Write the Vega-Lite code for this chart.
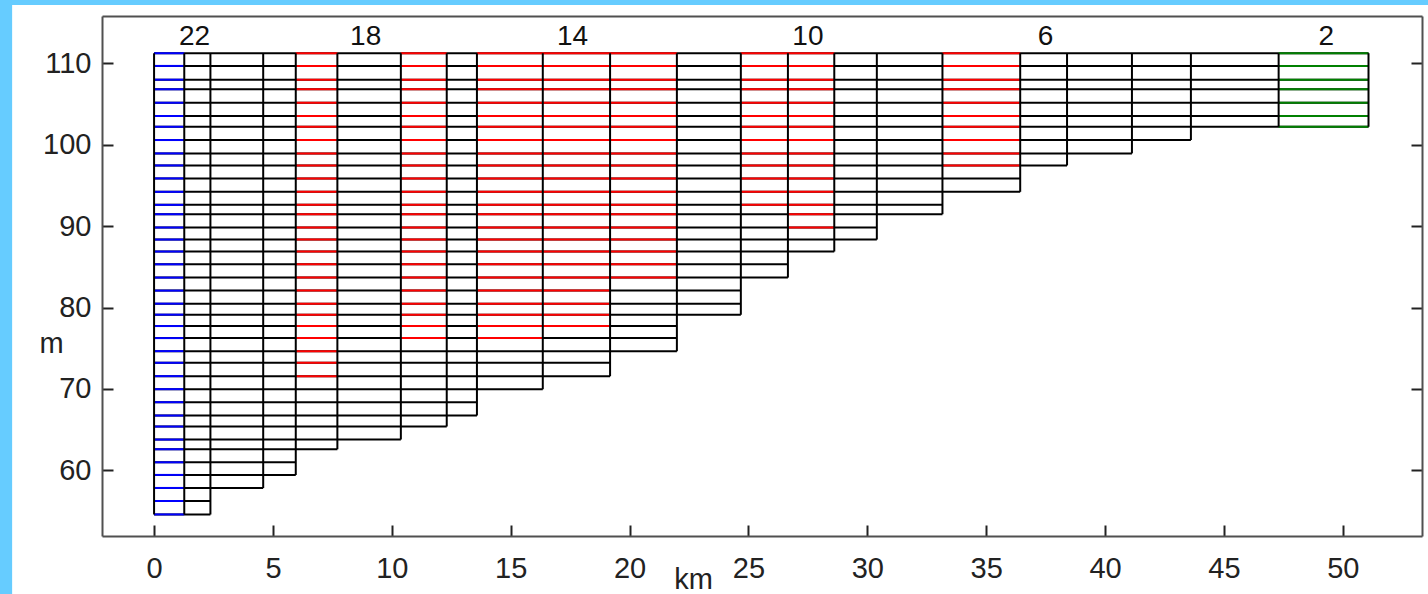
{
  "$schema": "https://vega.github.io/schema/vega-lite/v6.json",
  "width": 1320,
  "height": 520,
  "autosize": {"type": "none"},
  "padding": {"left": 102, "top": 16, "right": 6, "bottom": 58},
  "background": "#66ccff",
  "config": {"view": {"stroke": null}, "axis": {"grid": false}, "font": "Liberation Sans, Arial, sans-serif"},
  "datasets": {
    "h": [
      {"a":0,"b":51.08,"y":111.23,"c":"k"},
      {"a":0,"b":51.08,"y":109.67,"c":"k"},
      {"a":0,"b":51.08,"y":107.98,"c":"k"},
      {"a":0,"b":51.08,"y":106.8,"c":"k"},
      {"a":0,"b":51.08,"y":105.15,"c":"k"},
      {"a":0,"b":51.08,"y":103.52,"c":"k"},
      {"a":0,"b":51.08,"y":102.2,"c":"k"},
      {"a":0,"b":43.61,"y":100.57,"c":"k"},
      {"a":0,"b":41.13,"y":98.93,"c":"k"},
      {"a":0,"b":38.4,"y":97.45,"c":"k"},
      {"a":0,"b":36.43,"y":95.86,"c":"k"},
      {"a":0,"b":36.43,"y":94.21,"c":"k"},
      {"a":0,"b":33.16,"y":92.61,"c":"k"},
      {"a":0,"b":33.16,"y":91.46,"c":"k"},
      {"a":0,"b":30.4,"y":89.83,"c":"k"},
      {"a":0,"b":30.4,"y":88.35,"c":"k"},
      {"a":0,"b":28.61,"y":86.88,"c":"k"},
      {"a":0,"b":26.66,"y":85.31,"c":"k"},
      {"a":0,"b":26.66,"y":83.68,"c":"k"},
      {"a":0,"b":24.68,"y":82.08,"c":"k"},
      {"a":0,"b":24.68,"y":80.48,"c":"k"},
      {"a":0,"b":24.68,"y":79.13,"c":"k"},
      {"a":0,"b":21.99,"y":77.73,"c":"k"},
      {"a":0,"b":21.99,"y":76.25,"c":"k"},
      {"a":0,"b":21.99,"y":74.65,"c":"k"},
      {"a":0,"b":19.18,"y":73.22,"c":"k"},
      {"a":0,"b":19.18,"y":71.58,"c":"k"},
      {"a":0,"b":16.35,"y":69.98,"c":"k"},
      {"a":0,"b":13.58,"y":68.38,"c":"k"},
      {"a":0,"b":13.58,"y":66.74,"c":"k"},
      {"a":0,"b":12.31,"y":65.39,"c":"k"},
      {"a":0,"b":10.38,"y":63.79,"c":"k"},
      {"a":0,"b":7.71,"y":62.6,"c":"k"},
      {"a":0,"b":5.96,"y":61.0,"c":"k"},
      {"a":0,"b":5.96,"y":59.45,"c":"k"},
      {"a":0,"b":4.59,"y":57.85,"c":"k"},
      {"a":0,"b":2.37,"y":56.25,"c":"k"},
      {"a":0,"b":2.37,"y":54.6,"c":"k"},

      {"a":0,"b":1.27,"y":111.23,"c":"b"},
      {"a":0,"b":1.27,"y":109.67,"c":"b"},
      {"a":0,"b":1.27,"y":107.98,"c":"b"},
      {"a":0,"b":1.27,"y":106.8,"c":"b"},
      {"a":0,"b":1.27,"y":105.15,"c":"b"},
      {"a":0,"b":1.27,"y":103.52,"c":"b"},
      {"a":0,"b":1.27,"y":102.2,"c":"b"},
      {"a":0,"b":1.27,"y":100.57,"c":"b"},
      {"a":0,"b":1.27,"y":98.93,"c":"b"},
      {"a":0,"b":1.27,"y":97.45,"c":"b"},
      {"a":0,"b":1.27,"y":95.86,"c":"b"},
      {"a":0,"b":1.27,"y":94.21,"c":"b"},
      {"a":0,"b":1.27,"y":92.61,"c":"b"},
      {"a":0,"b":1.27,"y":91.46,"c":"b"},
      {"a":0,"b":1.27,"y":89.83,"c":"b"},
      {"a":0,"b":1.27,"y":88.35,"c":"b"},
      {"a":0,"b":1.27,"y":86.88,"c":"b"},
      {"a":0,"b":1.27,"y":85.31,"c":"b"},
      {"a":0,"b":1.27,"y":83.68,"c":"b"},
      {"a":0,"b":1.27,"y":82.08,"c":"b"},
      {"a":0,"b":1.27,"y":80.48,"c":"b"},
      {"a":0,"b":1.27,"y":79.13,"c":"b"},
      {"a":0,"b":1.27,"y":77.73,"c":"b"},
      {"a":0,"b":1.27,"y":76.25,"c":"b"},
      {"a":0,"b":1.27,"y":74.65,"c":"b"},
      {"a":0,"b":1.27,"y":73.22,"c":"b"},
      {"a":0,"b":1.27,"y":71.58,"c":"b"},
      {"a":0,"b":1.27,"y":69.98,"c":"b"},
      {"a":0,"b":1.27,"y":68.38,"c":"b"},
      {"a":0,"b":1.27,"y":66.74,"c":"b"},
      {"a":0,"b":1.27,"y":65.39,"c":"b"},
      {"a":0,"b":1.27,"y":63.79,"c":"b"},
      {"a":0,"b":1.27,"y":62.6,"c":"b"},
      {"a":0,"b":1.27,"y":61.0,"c":"b"},
      {"a":0,"b":1.27,"y":59.45,"c":"b"},
      {"a":0,"b":1.27,"y":57.85,"c":"b"},
      {"a":0,"b":1.27,"y":56.25,"c":"b"},
      {"a":0,"b":1.27,"y":54.6,"c":"b"},

      {"a":47.3,"b":51.08,"y":111.23,"c":"g"},
      {"a":47.3,"b":51.08,"y":109.67,"c":"g"},
      {"a":47.3,"b":51.08,"y":107.98,"c":"g"},
      {"a":47.3,"b":51.08,"y":106.8,"c":"g"},
      {"a":47.3,"b":51.08,"y":105.15,"c":"g"},
      {"a":47.3,"b":51.08,"y":103.52,"c":"g"},
      {"a":47.3,"b":51.08,"y":102.2,"c":"g"},

      {"a":5.96,"b":7.71,"y":111.23,"c":"r"},
      {"a":5.96,"b":7.71,"y":109.67,"c":"r"},
      {"a":5.96,"b":7.71,"y":107.98,"c":"r"},
      {"a":5.96,"b":7.71,"y":106.8,"c":"r"},
      {"a":5.96,"b":7.71,"y":105.15,"c":"r"},
      {"a":5.96,"b":7.71,"y":103.52,"c":"r"},
      {"a":5.96,"b":7.71,"y":102.2,"c":"r"},
      {"a":5.96,"b":7.71,"y":100.57,"c":"r"},
      {"a":5.96,"b":7.71,"y":98.93,"c":"r"},
      {"a":5.96,"b":7.71,"y":97.45,"c":"r"},
      {"a":5.96,"b":7.71,"y":95.86,"c":"r"},
      {"a":5.96,"b":7.71,"y":94.21,"c":"r"},
      {"a":5.96,"b":7.71,"y":92.61,"c":"r"},
      {"a":5.96,"b":7.71,"y":91.46,"c":"r"},
      {"a":5.96,"b":7.71,"y":89.83,"c":"r"},
      {"a":5.96,"b":7.71,"y":88.35,"c":"r"},
      {"a":5.96,"b":7.71,"y":86.88,"c":"r"},
      {"a":5.96,"b":7.71,"y":85.31,"c":"r"},
      {"a":5.96,"b":7.71,"y":83.68,"c":"r"},
      {"a":5.96,"b":7.71,"y":82.08,"c":"r"},
      {"a":5.96,"b":7.71,"y":80.48,"c":"r"},
      {"a":5.96,"b":7.71,"y":79.13,"c":"r"},
      {"a":5.96,"b":7.71,"y":77.73,"c":"r"},
      {"a":5.96,"b":7.71,"y":76.25,"c":"r"},
      {"a":5.96,"b":7.71,"y":74.65,"c":"r"},
      {"a":5.96,"b":7.71,"y":73.22,"c":"r"},
      {"a":5.96,"b":7.71,"y":71.58,"c":"r"},

      {"a":10.38,"b":12.31,"y":111.23,"c":"r"},
      {"a":10.38,"b":12.31,"y":109.67,"c":"r"},
      {"a":10.38,"b":12.31,"y":107.98,"c":"r"},
      {"a":10.38,"b":12.31,"y":106.8,"c":"r"},
      {"a":10.38,"b":12.31,"y":105.15,"c":"r"},
      {"a":10.38,"b":12.31,"y":103.52,"c":"r"},
      {"a":10.38,"b":12.31,"y":102.2,"c":"r"},
      {"a":10.38,"b":12.31,"y":100.57,"c":"r"},
      {"a":10.38,"b":12.31,"y":98.93,"c":"r"},
      {"a":10.38,"b":12.31,"y":97.45,"c":"r"},
      {"a":10.38,"b":12.31,"y":95.86,"c":"r"},
      {"a":10.38,"b":12.31,"y":94.21,"c":"r"},
      {"a":10.38,"b":12.31,"y":92.61,"c":"r"},
      {"a":10.38,"b":12.31,"y":91.46,"c":"r"},
      {"a":10.38,"b":12.31,"y":89.83,"c":"r"},
      {"a":10.38,"b":12.31,"y":88.35,"c":"r"},
      {"a":10.38,"b":12.31,"y":86.88,"c":"r"},
      {"a":10.38,"b":12.31,"y":85.31,"c":"r"},
      {"a":10.38,"b":12.31,"y":83.68,"c":"r"},
      {"a":10.38,"b":12.31,"y":82.08,"c":"r"},
      {"a":10.38,"b":12.31,"y":80.48,"c":"r"},
      {"a":10.38,"b":12.31,"y":79.13,"c":"r"},
      {"a":10.38,"b":12.31,"y":77.73,"c":"r"},
      {"a":10.38,"b":12.31,"y":76.25,"c":"r"},

      {"a":13.58,"b":21.99,"y":111.23,"c":"r"},
      {"a":13.58,"b":21.99,"y":109.67,"c":"r"},
      {"a":13.58,"b":21.99,"y":107.98,"c":"r"},
      {"a":13.58,"b":21.99,"y":106.8,"c":"r"},
      {"a":13.58,"b":21.99,"y":105.15,"c":"r"},
      {"a":13.58,"b":21.99,"y":103.52,"c":"r"},
      {"a":13.58,"b":21.99,"y":102.2,"c":"r"},
      {"a":13.58,"b":21.99,"y":100.57,"c":"r"},
      {"a":13.58,"b":21.99,"y":98.93,"c":"r"},
      {"a":13.58,"b":21.99,"y":97.45,"c":"r"},
      {"a":13.58,"b":21.99,"y":95.86,"c":"r"},
      {"a":13.58,"b":21.99,"y":94.21,"c":"r"},
      {"a":13.58,"b":21.99,"y":92.61,"c":"r"},
      {"a":13.58,"b":21.99,"y":91.46,"c":"r"},
      {"a":13.58,"b":21.99,"y":89.83,"c":"r"},
      {"a":13.58,"b":21.99,"y":88.35,"c":"r"},
      {"a":13.58,"b":21.99,"y":86.88,"c":"r"},
      {"a":13.58,"b":21.99,"y":85.31,"c":"r"},
      {"a":13.58,"b":21.99,"y":83.68,"c":"r"},
      {"a":13.58,"b":19.18,"y":82.08,"c":"r"},
      {"a":13.58,"b":19.18,"y":80.48,"c":"r"},
      {"a":13.58,"b":19.18,"y":79.13,"c":"r"},
      {"a":13.58,"b":19.18,"y":77.73,"c":"r"},
      {"a":13.58,"b":16.35,"y":76.25,"c":"r"},

      {"a":24.68,"b":28.61,"y":111.23,"c":"r"},
      {"a":24.68,"b":28.61,"y":109.67,"c":"r"},
      {"a":24.68,"b":28.61,"y":107.98,"c":"r"},
      {"a":24.68,"b":28.61,"y":106.8,"c":"r"},
      {"a":24.68,"b":28.61,"y":105.15,"c":"r"},
      {"a":24.68,"b":28.61,"y":103.52,"c":"r"},
      {"a":24.68,"b":28.61,"y":102.2,"c":"r"},
      {"a":24.68,"b":28.61,"y":100.57,"c":"r"},
      {"a":24.68,"b":28.61,"y":98.93,"c":"r"},
      {"a":24.68,"b":28.61,"y":97.45,"c":"r"},
      {"a":24.68,"b":28.61,"y":95.86,"c":"r"},
      {"a":24.68,"b":28.61,"y":94.21,"c":"r"},
      {"a":24.68,"b":28.61,"y":92.61,"c":"r"},
      {"a":26.66,"b":28.61,"y":91.46,"c":"r"},
      {"a":26.66,"b":28.61,"y":89.83,"c":"r"},

      {"a":33.16,"b":36.43,"y":111.23,"c":"r"},
      {"a":33.16,"b":36.43,"y":109.67,"c":"r"},
      {"a":33.16,"b":36.43,"y":107.98,"c":"r"},
      {"a":33.16,"b":36.43,"y":106.8,"c":"r"},
      {"a":33.16,"b":36.43,"y":105.15,"c":"r"},
      {"a":33.16,"b":36.43,"y":103.52,"c":"r"},
      {"a":33.16,"b":36.43,"y":102.2,"c":"r"},
      {"a":33.16,"b":36.43,"y":100.57,"c":"r"},
      {"a":33.16,"b":36.43,"y":98.93,"c":"r"},
      {"a":33.16,"b":36.43,"y":97.45,"c":"r"}
    ],
    "v": [
      {"x":0,"y0":54.6,"y1":111.23},
      {"x":1.27,"y0":54.6,"y1":111.23},
      {"x":2.37,"y0":54.6,"y1":111.23},
      {"x":4.59,"y0":57.85,"y1":111.23},
      {"x":5.96,"y0":59.45,"y1":111.23},
      {"x":7.71,"y0":62.6,"y1":111.23},
      {"x":10.38,"y0":63.79,"y1":111.23},
      {"x":12.31,"y0":65.39,"y1":111.23},
      {"x":13.58,"y0":66.74,"y1":111.23},
      {"x":16.35,"y0":69.98,"y1":111.23},
      {"x":19.18,"y0":71.58,"y1":111.23},
      {"x":21.99,"y0":74.65,"y1":111.23},
      {"x":24.68,"y0":79.13,"y1":111.23},
      {"x":26.66,"y0":83.68,"y1":111.23},
      {"x":28.61,"y0":86.88,"y1":111.23},
      {"x":30.4,"y0":88.35,"y1":111.23},
      {"x":33.16,"y0":91.46,"y1":111.23},
      {"x":36.43,"y0":94.21,"y1":111.23},
      {"x":38.4,"y0":97.45,"y1":111.23},
      {"x":41.13,"y0":98.93,"y1":111.23},
      {"x":43.61,"y0":100.57,"y1":111.23},
      {"x":47.3,"y0":102.2,"y1":111.23},
      {"x":51.08,"y0":102.2,"y1":111.23}
    ],
    "t": [
      {"x":1.7,"y":113.17,"label":"22"},
      {"x":8.9,"y":113.17,"label":"18"},
      {"x":17.6,"y":113.17,"label":"14"},
      {"x":27.5,"y":113.17,"label":"10"},
      {"x":37.5,"y":113.17,"label":"6"},
      {"x":49.3,"y":113.17,"label":"2"}
    ]
  },
  "resolve": {"axis": {"x": "independent", "y": "independent"}},
  "layer": [
    {
      "data": {"values": [{}]},
      "mark": {"type": "rect", "color": "white", "clip": false},
      "encoding": {
        "x": {"datum": -5.97, "type": "quantitative",
          "scale": {"domain": [-2.19, 53.33], "nice": false, "zero": false},
          "axis": {"orient": "bottom", "values": [0,5,10,15,20,25,30,35,40,45,50], "tickSize": -11, "tickWidth": 2, "tickColor": "#222222",
            "domainColor": "#505050", "domainWidth": 2, "labelFontSize": 29, "labelColor": "#222222", "labelPadding": 29,
            "labelFlush": false, "labelOverlap": false, "labelBaseline": "top",
            "title": "km", "titleFontSize": 29, "titleFontWeight": "normal", "titleColor": "#222222",
            "titleX": 591, "titleY": 52, "titleAlign": "center", "titleBaseline": "alphabetic", "titleAnchor": null, "zindex": 1}},
        "x2": {"datum": 90},
        "y": {"datum": 117.15, "type": "quantitative",
          "scale": {"domain": [51.95, 115.8], "nice": false, "zero": false},
          "axis": {"orient": "left", "values": [60,70,80,90,100,110], "tickSize": -11, "tickWidth": 2, "tickColor": "#222222",
            "domainColor": "#505050", "domainWidth": 2, "labelFontSize": 29, "labelColor": "#222222", "labelPadding": 22,
            "labelFlush": false, "labelOverlap": false,
            "title": "m", "titleFontSize": 29, "titleFontWeight": "normal", "titleColor": "#222222", "titleAngle": 0,
            "titleX": -51, "titleY": 327, "titleAlign": "center", "titleBaseline": "middle", "titleAnchor": null, "zindex": 1}},
        "y2": {"datum": 20}
      }
    },
    {
      "data": {"name": "h"},
      "mark": {"type": "rule", "strokeWidth": 2},
      "encoding": {
        "x": {"field": "a", "type": "quantitative",
          "axis": {"orient": "top", "ticks": false, "labels": false, "domainColor": "#505050", "domainWidth": 2, "title": null, "zindex": 1}},
        "x2": {"field": "b"},
        "y": {"field": "y", "type": "quantitative",
          "axis": {"orient": "right", "values": [60,70,80,90,100,110], "tickSize": -11, "tickWidth": 2, "tickColor": "#222222", "labels": false,
            "domainColor": "#505050", "domainWidth": 2, "title": null, "zindex": 1}},
        "color": {"field": "c", "type": "nominal", "legend": null,
          "scale": {"domain": ["k","b","r","g"], "range": ["#000000","#0000ff","#ff0000","#008000"]}}
      }
    },
    {
      "data": {"name": "v"},
      "mark": {"type": "rule", "strokeWidth": 2, "color": "#000000"},
      "encoding": {
        "x": {"field": "x", "type": "quantitative", "axis": null},
        "y": {"field": "y0", "type": "quantitative", "axis": null},
        "y2": {"field": "y1"}
      }
    },
    {
      "data": {"name": "t"},
      "mark": {"type": "text", "fontSize": 28, "color": "#111111", "baseline": "middle", "align": "center"},
      "encoding": {
        "x": {"field": "x", "type": "quantitative", "axis": null},
        "y": {"field": "y", "type": "quantitative", "axis": null},
        "text": {"field": "label"}
      }
    }
  ]
}
